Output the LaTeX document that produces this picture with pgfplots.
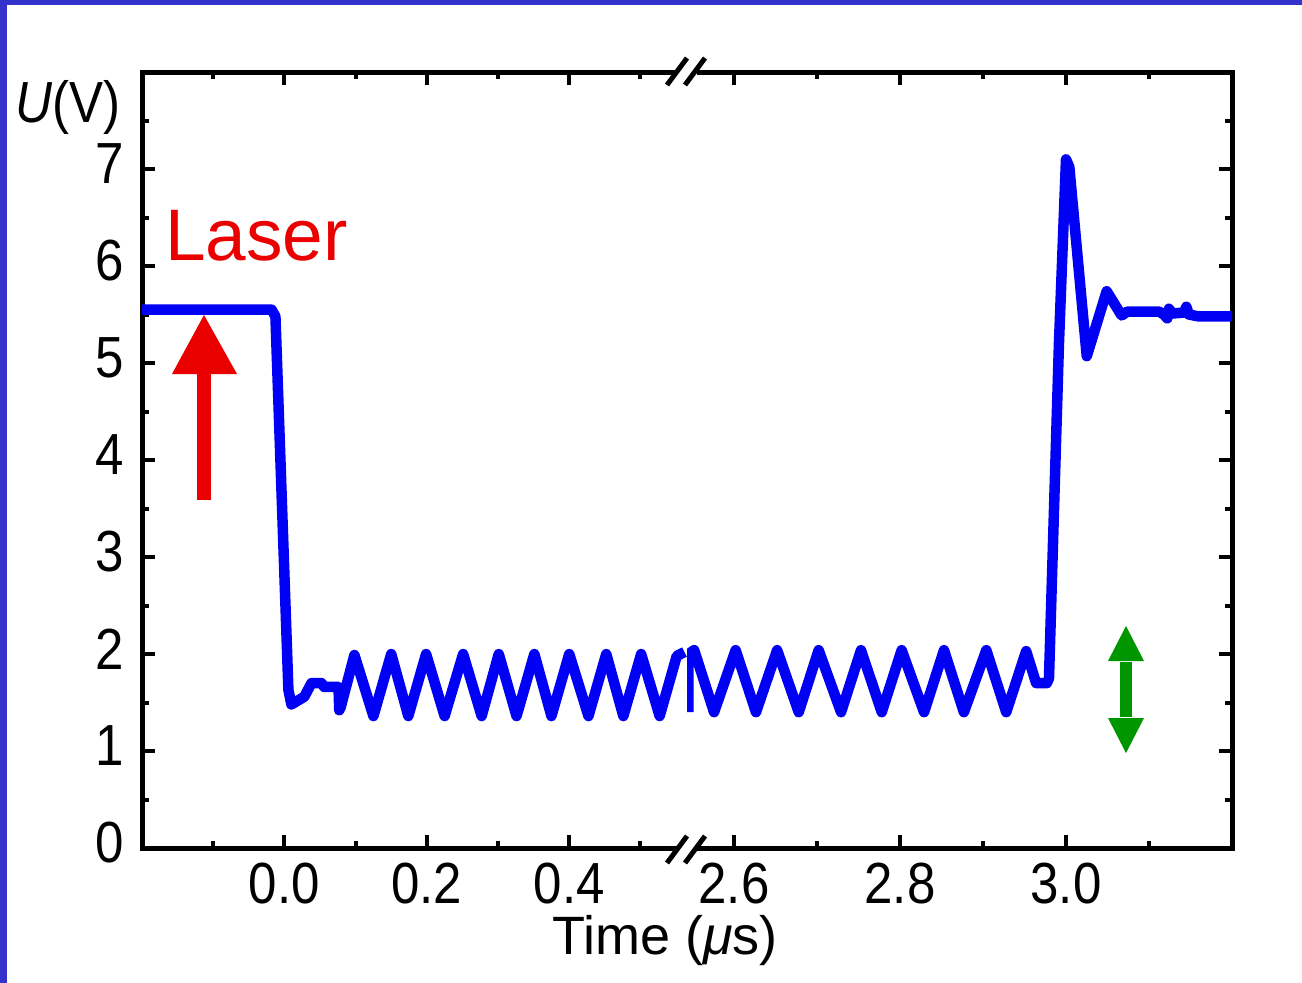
\documentclass[border=0pt]{standalone}
\usepackage{fontspec}
\setmainfont{Liberation Sans}
\newfontfamily\axfont[FakeStretch=0.88]{Liberation Sans}
\usepackage{pgfplots}
\pgfplotsset{compat=1.18}
\definecolor{framebg}{RGB}{51,51,204}
\definecolor{curveblue}{RGB}{0,0,245}
\definecolor{laserred}{RGB}{235,0,0}
\definecolor{arrowgreen}{RGB}{0,150,0}

\pgfplotstableread{
t v
-0.2 5.55
-0.018 5.55
-0.0126 5.48
0.0056 1.63
0.0098 1.48
0.028 1.56
0.038 1.70
0.052 1.70
0.056 1.66
0.076 1.66
0.077 1.42
0.079 1.45
0.0983 1.99
0.125 1.36
0.150 2.00
0.174 1.36
0.199 2.00
0.225 1.36
0.251 2.00
0.277 1.36
0.301 2.00
0.326 1.36
0.351 2.00
0.375 1.36
0.400 2.00
0.427 1.36
0.452 2.00
0.476 1.36
0.501 2.00
0.527 1.36
0.551 1.98
0.5618 2.02
}\leftdata

\pgfplotstableread{
t v
2.545 1.40
2.5452 2.00
2.552 2.04
2.576 1.40
2.602 2.04
2.6265 1.40
2.652 2.04
2.678 1.40
2.702 2.04
2.729 1.40
2.753 2.04
2.778 1.40
2.802 2.04
2.829 1.40
2.853 2.04
2.877 1.40
2.904 2.04
2.928 1.40
2.952 2.03
2.964 1.70
2.977 1.70
2.9795 1.75
2.9915 5.20
3.000 7.10
3.004 7.02
3.025 5.07
3.049 5.74
3.067 5.49
3.074 5.53
3.112 5.53
3.118 5.50
3.122 5.46
3.124 5.56
3.128 5.51
3.142 5.52
3.145 5.58
3.148 5.50
3.16 5.48
3.2 5.48
}\rightdata

\pgfplotsset{brokenstyle/.style={
  scale only axis, width=545pt, height=776pt, ymin=0, ymax=8,
  tick align=inside,
  major tick length=13pt, minor tick length=7pt,
  every tick/.style={black, line width=4pt},
  axis line style={line width=5pt, line cap=rect},
  ytick={0,1,...,7}, minor ytick={0.5,1.5,...,7.5},
  xtick pos=both,
  ticklabel style={font=\axfont\fontsize{58}{60}\selectfont, inner sep=0pt},
  /pgf/number format/assume math mode=true,
  xticklabel style={anchor=north, yshift=-15pt},
  yticklabel style={anchor=east, xshift=-18pt, yshift=5pt},
}}

\begin{document}
\begin{tikzpicture}
\useasboundingbox (0pt,0pt) rectangle (1302pt,-983pt);
\fill[framebg] (0pt,0pt) rectangle (1302pt,-983pt);
\fill[white] (7pt,-5pt) rectangle (1302pt,-983pt);

\begin{axis}[brokenstyle, at={(142pt,-848pt)}, anchor=south west,
  xmin=-0.2, xmax=0.5654,
  axis x line*=box, axis y line*=left, ytick pos=left,
  xtick={0,0.2,0.4}, xticklabels={0.0,0.2,0.4},
  minor xtick={-0.1,0.1,0.3,0.5}]
\addplot[curveblue, line width=10.5pt, line join=round, no marks] table[x=t,y=v] {\leftdata};
\end{axis}

\begin{axis}[brokenstyle, at={(687pt,-848pt)}, anchor=south west,
  xmin=2.5434, xmax=3.2,
  axis x line*=box, axis y line*=right, ytick pos=right,
  yticklabels={},
  xtick={2.6,2.8,3.0}, xticklabels={2.6,2.8,3.0},
  minor xtick={2.7,2.9,3.1}]
\addplot[curveblue, line width=10.5pt, line join=round, no marks] table[x=t,y=v] {\rightdata};
\end{axis}

% axis break marks
\fill[white] (677pt,-62pt) rectangle (697pt,-82pt);
\fill[white] (677pt,-839pt) rectangle (697pt,-859pt);
\foreach \yy in {-71.5,-849.5}{
  \draw[line width=5pt] (667pt,\yy pt-13.5pt) -- (687pt,\yy pt+13.5pt);
  \draw[line width=5pt] (685pt,\yy pt-13.5pt) -- (705pt,\yy pt+13.5pt);
}

% labels
\node[anchor=base west, inner sep=0pt] at (15pt,-122pt) {\axfont\fontsize{58}{60}\selectfont\textit{U}(V)};
\node[anchor=base, inner sep=0pt] at (665pt,-954pt) {\fontsize{54}{58}\selectfont Time (\textit{μ}s)};
\node[anchor=base west, inner sep=0pt, text=laserred] at (165pt,-260pt) {\fontsize{73}{76}\selectfont Laser};

% red arrow
\fill[laserred] (197pt,-500pt) rectangle (211pt,-372pt);
\fill[laserred] (172pt,-374pt) -- (237pt,-374pt) -- (204pt,-315pt) -- cycle;

% green double arrow
\fill[arrowgreen] (1120pt,-662pt) rectangle (1132pt,-717pt);
\fill[arrowgreen] (1108pt,-661pt) -- (1144pt,-661pt) -- (1126pt,-626pt) -- cycle;
\fill[arrowgreen] (1108pt,-718pt) -- (1144pt,-718pt) -- (1126pt,-753pt) -- cycle;
\end{tikzpicture}
\end{document}
